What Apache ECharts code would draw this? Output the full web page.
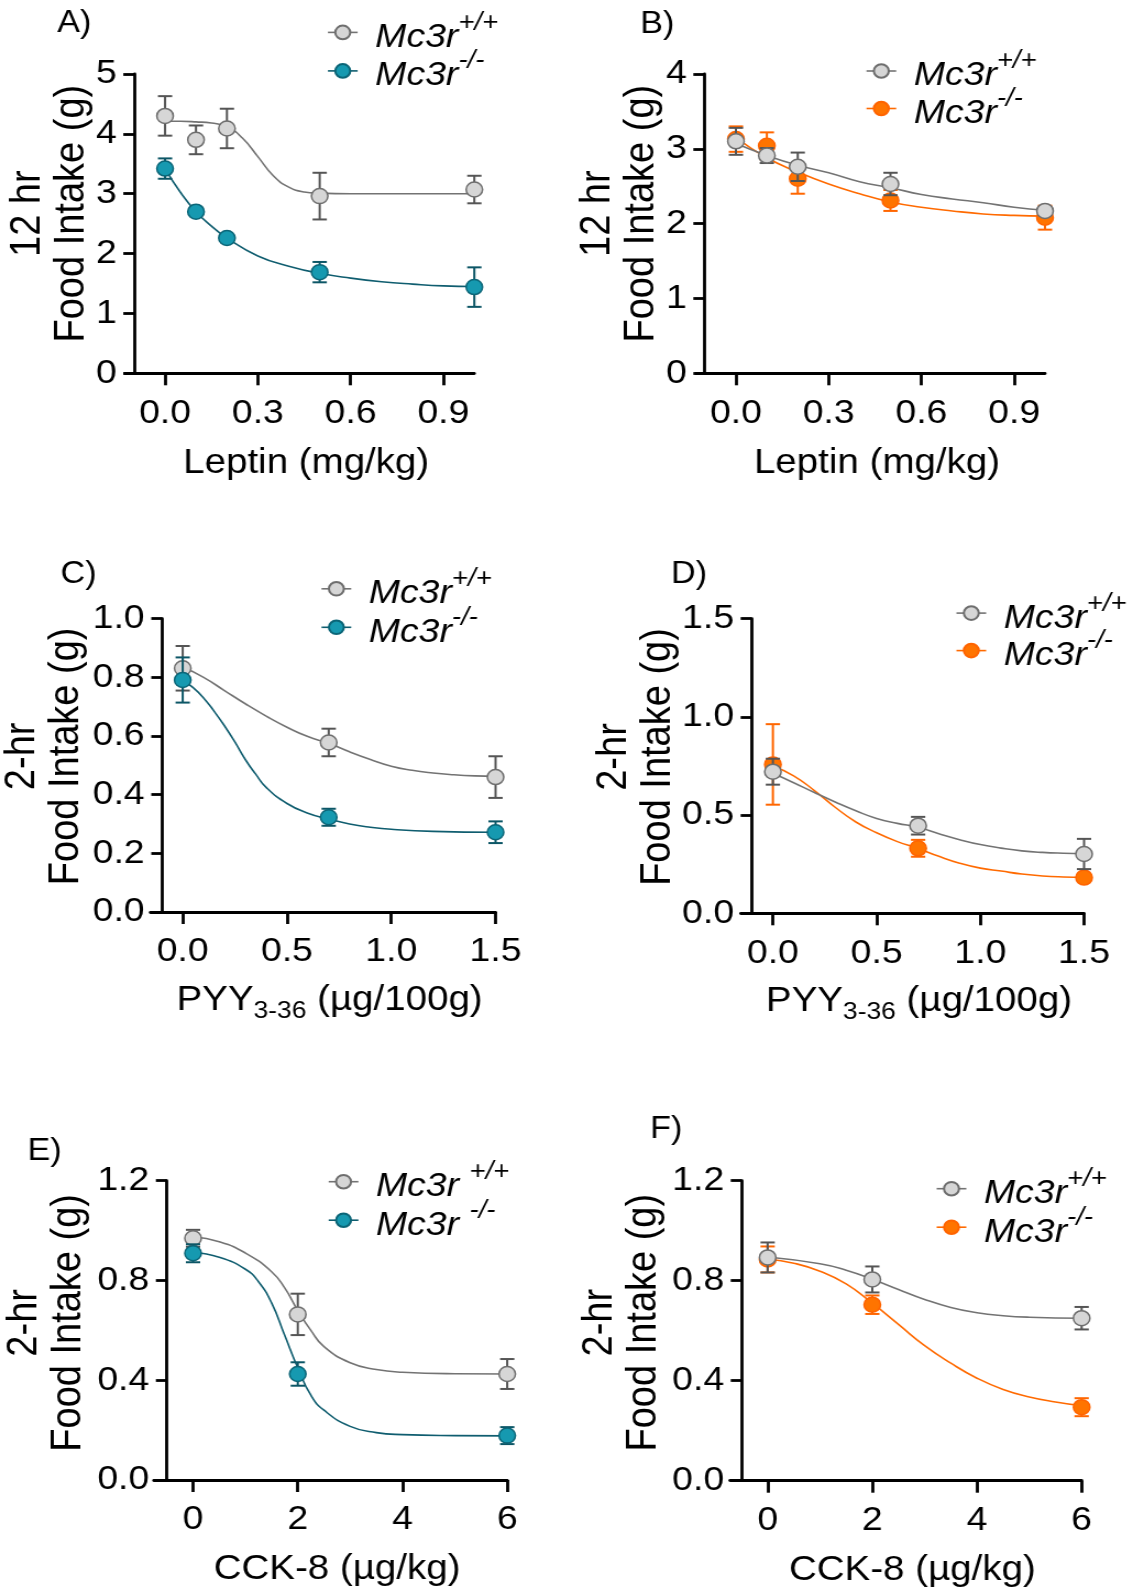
<!DOCTYPE html>
<html><head><meta charset="utf-8">
<script src="https://cdn.jsdelivr.net/npm/echarts@6.0.0/dist/echarts.min.js"></script>
<style>
html,body{margin:0;padding:0;background:#fff;overflow:hidden;}
#c{position:absolute;left:0;top:0;width:1030px;height:1589px;transform:scaleX(1.1);transform-origin:0 0;}
</style></head><body><div id="c"></div>
<script>
// ---------- data ----------
const leptinDose = [0, 0.1, 0.2, 0.5, 1.0];
const pyyDose = [0, 0.7, 1.5];
const cckDose = [0, 2, 6];

const leptinTicks = [0, 0.3, 0.6, 0.9];
const leptinTickLabels = ['0.0', '0.3', '0.6', '0.9'];
const pyyTicks = [0, 0.5, 1.0, 1.5];
const pyyTickLabels = ['0.0', '0.5', '1.0', '1.5'];
const cckTicks = [0, 2, 4, 6];
const cckTickLabels = ['0', '2', '4', '6'];

const yTicksA = [0, 1, 2, 3, 4, 5];
const yTickLabelsA = ['0', '1', '2', '3', '4', '5'];
const yTicksB = [0, 1, 2, 3, 4];
const yTickLabelsB = ['0', '1', '2', '3', '4'];
const yTicksC = [0, 0.2, 0.4, 0.6, 0.8, 1.0];
const yTickLabelsC = ['0.0', '0.2', '0.4', '0.6', '0.8', '1.0'];
const yTicksD = [0, 0.5, 1.0, 1.5];
const yTickLabelsD = ['0.0', '0.5', '1.0', '1.5'];
const yTicksEF = [0, 0.4, 0.8, 1.2];
const yTickLabelsEF = ['0.0', '0.4', '0.8', '1.2'];

// Panel A: leptin, 12 hr
const aWT = [4.30, 3.90, 4.09, 2.96, 3.07];
const aWTsem = [0.33, 0.24, 0.33, 0.39, 0.23];
const aKO = [3.42, 2.70, 2.26, 1.69, 1.44];
const aKOsem = [0.17, 0.04, 0.04, 0.17, 0.33];
const aWTfit = [[0,4.21],[0.05,4.21],[0.1,4.20],[0.15,4.18],[0.2,4.12],[0.25,3.93],[0.3,3.62],[0.35,3.30],[0.4,3.11],[0.45,3.03],[0.5,3.01],[0.6,3.0],[0.8,3.0],[1.0,3.0]];
const aKOfit = [[0,3.42],[0.05,3.02],[0.1,2.70],[0.15,2.46],[0.2,2.26],[0.3,1.96],[0.4,1.79],[0.5,1.67],[0.6,1.59],[0.7,1.53],[0.8,1.49],[0.9,1.46],[1.0,1.45]];

// Panel B: leptin, 12 hr
const bWT = [3.10, 2.91, 2.76, 2.53, 2.17];
const bWTsem = [0.18, 0.10, 0.19, 0.15, 0.05];
const bKO = [3.13, 3.04, 2.60, 2.31, 2.08];
const bKOsem = [0.17, 0.18, 0.20, 0.14, 0.16];
const bWTfit = [[0,3.07],[0.1,2.91],[0.2,2.78],[0.3,2.68],[0.4,2.56],[0.5,2.48],[0.6,2.39],[0.7,2.33],[0.8,2.28],[0.9,2.22],[1.0,2.18]];
const bKOfit = [[0,3.15],[0.1,2.88],[0.2,2.69],[0.3,2.53],[0.4,2.40],[0.5,2.29],[0.6,2.22],[0.7,2.17],[0.8,2.13],[0.9,2.11],[1.0,2.10]];

// Panel C: PYY, 2-hr
const cWT = [0.831, 0.578, 0.460];
const cWTsem = [0.076, 0.047, 0.071];
const cKO = [0.791, 0.323, 0.272];
const cKOsem = [0.077, 0.029, 0.037];
const cWTfit = [[0,0.835],[0.1,0.80],[0.2,0.755],[0.3,0.71],[0.4,0.668],[0.5,0.63],[0.6,0.598],[0.7,0.575],[0.8,0.546],[0.9,0.52],[1.0,0.497],[1.1,0.483],[1.2,0.474],[1.3,0.468],[1.4,0.464],[1.5,0.462]];
const cKOfit = [[0,0.79],[0.05,0.765],[0.1,0.73],[0.15,0.685],[0.2,0.635],[0.25,0.58],[0.3,0.52],[0.35,0.47],[0.4,0.425],[0.5,0.37],[0.6,0.337],[0.7,0.317],[0.8,0.30],[0.9,0.289],[1.0,0.282],[1.2,0.275],[1.5,0.272]];

// Panel D: PYY, 2-hr
const dWT = [0.721, 0.446, 0.302];
const dWTsem = [0.066, 0.045, 0.077];
const dKO = [0.758, 0.331, 0.182];
const dKOsem = [0.205, 0.043, 0.015];
const dWTfit = [[0,0.713],[0.1,0.665],[0.2,0.615],[0.3,0.567],[0.4,0.522],[0.5,0.483],[0.6,0.458],[0.7,0.438],[0.8,0.405],[0.9,0.375],[1.0,0.35],[1.1,0.332],[1.2,0.318],[1.3,0.31],[1.4,0.306],[1.5,0.304]];
const dKOfit = [[0,0.75],[0.1,0.70],[0.2,0.625],[0.3,0.54],[0.4,0.465],[0.5,0.41],[0.6,0.365],[0.7,0.33],[0.8,0.29],[0.9,0.255],[1.0,0.23],[1.1,0.215],[1.2,0.20],[1.3,0.19],[1.4,0.185],[1.5,0.183]];

// Panel E: CCK-8, 2-hr
const eWT = [0.969, 0.664, 0.425];
const eWTsem = [0.034, 0.083, 0.060];
const eKO = [0.909, 0.425, 0.178];
const eKOsem = [0.036, 0.047, 0.034];
const eWTfit = [[0,0.975],[0.5,0.955],[1,0.91],[1.5,0.835],[1.75,0.77],[2,0.68],[2.25,0.60],[2.5,0.535],[3,0.47],[3.5,0.443],[4,0.432],[5,0.426],[6,0.425]];
const eKOfit = [[0,0.912],[0.5,0.893],[1,0.845],[1.25,0.795],[1.5,0.71],[1.75,0.58],[2,0.45],[2.25,0.34],[2.5,0.28],[3,0.215],[3.5,0.19],[4,0.182],[5,0.178],[6,0.177]];

// Panel F: CCK-8, 2-hr
const fWT = [0.893, 0.805, 0.650];
const fWTsem = [0.060, 0.052, 0.045];
const fKO = [0.885, 0.704, 0.294];
const fKOsem = [0.052, 0.037, 0.036];
const fWTfit = [[0,0.895],[1,0.868],[1.5,0.842],[2,0.806],[2.5,0.765],[3,0.725],[3.5,0.693],[4,0.672],[4.5,0.66],[5,0.654],[6,0.65]];
const fKOfit = [[0,0.887],[0.5,0.87],[1,0.838],[1.5,0.787],[2,0.71],[2.5,0.625],[3,0.54],[3.5,0.47],[4,0.41],[4.5,0.365],[5,0.335],[5.5,0.315],[6,0.30]];

// ---------- styling ----------
const FONT = '"Liberation Sans", Arial, Helvetica, sans-serif';
const GRAY = {fill:'#d6d6d6', border:'#6e6e6e', line:'#737373', err:'#555555'};
const TEAL = {fill:'#1699b0', border:'#0b6577', line:'#0f5d6f', err:'#0c5666'};
const ORANGE = {fill:'#ff7400', border:'#ff6400', line:'#ff6a00', err:'#ff6600'};

function lookup(ticks, labels) {
  return function (v) {
    const i = ticks.findIndex(t => Math.abs(t - v) < 1e-6);
    return i >= 0 ? labels[i] : '';
  };
}

function errRender(color) {
  return function (params, api) {
    const x = api.value(0), y = api.value(1), e = api.value(2);
    const p1 = api.coord([x, y + e]), p2 = api.coord([x, y - e]);
    const w = 6.5;
    const st = {stroke: color, lineWidth: 2, fill: null};
    return {type: 'group', children: [
      {type: 'line', shape: {x1: p1[0], y1: p1[1], x2: p2[0], y2: p2[1]}, style: st},
      {type: 'line', shape: {x1: p1[0] - w, y1: p1[1], x2: p1[0] + w, y2: p1[1]}, style: st},
      {type: 'line', shape: {x1: p2[0] - w, y1: p2[1], x2: p2[0] + w, y2: p2[1]}, style: st}
    ]};
  };
}

function groupSeries(idx, name, xs, ys, sem, fit, col, z) {
  return [
    {type: 'line', name: name + '_fit', xAxisIndex: idx, yAxisIndex: idx, data: fit,
     smooth: 0.5, symbol: 'none', showSymbol: false,
     lineStyle: {color: col.line, width: 1.6}, z: 2, silent: true},
    {type: 'custom', name: name + '_err', xAxisIndex: idx, yAxisIndex: idx,
     data: xs.map((x, i) => [x, ys[i], sem[i]]), renderItem: errRender(col.err),
     z: z, silent: true, clip: false},
    {type: 'line', name: name, xAxisIndex: idx, yAxisIndex: idx,
     data: xs.map((x, i) => [x, ys[i]]), symbol: 'circle', symbolSize: 15, showSymbol: true,
     lineStyle: {opacity: 0, color: col.line, width: 1.6},
     itemStyle: {color: col.fill, borderColor: col.border, borderWidth: 1.5},
     z: z + 1, silent: true}
  ];
}

const axisLineStyle = {color: '#000', width: 2.8};

function xAxisCfg(idx, min, max, ticks, labels, name, nameGap, nameStyle) {
  return {type: 'value', gridIndex: idx, min: min, max: max,
    axisLine: {show: true, onZero: false, lineStyle: axisLineStyle},
    axisTick: {show: true, length: 12, customValues: ticks, lineStyle: axisLineStyle},
    axisLabel: {show: true, customValues: ticks, formatter: lookup(ticks, labels),
      fontSize: 34, fontFamily: FONT, color: '#000', margin: 23},
    splitLine: {show: false},
    name: name, nameLocation: 'middle', nameGap: nameGap, nameMoveOverlap: false,
    nameTextStyle: nameStyle};
}

function yAxisCfg(idx, max, ticks, labels, offset, name, nameGap, shiftPad) {
  return {type: 'value', gridIndex: idx, min: 0, max: max, position: 'left', offset: offset,
    axisLine: {show: true, onZero: false, lineStyle: axisLineStyle},
    axisTick: {show: true, length: 10, customValues: ticks, lineStyle: axisLineStyle},
    axisLabel: {show: true, customValues: ticks, formatter: lookup(ticks, labels),
      fontSize: 34, fontFamily: FONT, color: '#000', margin: 16},
    splitLine: {show: false},
    name: name, nameLocation: 'middle', nameRotate: 90, nameGap: nameGap, nameMoveOverlap: false,
    nameTextStyle: {fontSize: 38, lineHeight: 40, fontFamily: FONT, color: '#000', padding: [0, 0, 0, shiftPad]}};
}

const plainName = {fontSize: 35, fontFamily: FONT, color: '#000', padding: [0, 0, 0, 12]};
const pyyName = {padding: [0, 0, 0, 12], rich: {
  a: {fontSize: 35, lineHeight: 40, verticalAlign: 'top', fontFamily: FONT, color: '#000'},
  b: {fontSize: 24, lineHeight: 24, padding: [22, 0, 0, 0], verticalAlign: 'bottom', fontFamily: FONT, color: '#000'}
}};
const pyyLabel = '{a|PYY}{b|3-36}{a| (µg/100g)}';

function legendCfg(names, left, top, gap, spaced) {
  return {show: true, orient: 'vertical', left: left, top: top, itemGap: gap, padding: 0,
    itemWidth: 27, itemHeight: 17, selectedMode: false, data: names,
    lineStyle: {opacity: 1, width: 1.6},
    formatter: function (n) {
      const sup = n.slice(-2) === 'WT' ? '+/+' : '-/-';
      return '{p|}{m|Mc3r' + (spaced ? ' ' : '') + '}{s|' + sup + '}';
    },
    textStyle: {rich: {
      p: {width: 11, lineHeight: 44},
      m: {fontFamily: FONT, fontStyle: 'italic', fontSize: 34, lineHeight: 44, color: '#000', verticalAlign: 'bottom'},
      s: {fontFamily: FONT, fontStyle: 'italic', fontSize: 25, lineHeight: 24, color: '#000', verticalAlign: 'top'}
    }}
  };
}

function letter(t, left, top) {
  return {text: t, left: left, top: top, padding: 0,
    textStyle: {fontFamily: FONT, fontSize: 31, fontWeight: 'normal', color: '#000'}};
}

const option = {
  animation: false,
  backgroundColor: '#fff',
  title: [
    letter('A)', 52, 8), letter('B)', 582, 9), letter('C)', 55, 559),
    letter('D)', 610, 559), letter('E)', 25, 1136), letter('F)', 591, 1114)
  ],
  grid: [
    {left: 113.5, top: 74, width: 317.7, height: 299.3, outerBoundsMode: 'none'},
    {left: 632.5, top: 74, width: 317.5, height: 299.3, outerBoundsMode: 'none'},
    {left: 136.7, top: 618.7, width: 313.8, height: 293.3, outerBoundsMode: 'none'},
    {left: 673.4, top: 618.7, width: 312.1, height: 294.6, outerBoundsMode: 'none'},
    {left: 139.8, top: 1180.7, width: 321.3, height: 299.3, outerBoundsMode: 'none'},
    {left: 663.6, top: 1180.7, width: 319.7, height: 300, outerBoundsMode: 'none'}
  ],
  xAxis: [
    xAxisCfg(0, -0.13, 1.0, leptinTicks, leptinTickLabels, 'Leptin (mg/kg)', 73, plainName),
    xAxisCfg(1, -0.13, 1.0, leptinTicks, leptinTickLabels, 'Leptin (mg/kg)', 73, plainName),
    xAxisCfg(2, -0.155, 1.5, pyyTicks, pyyTickLabels, pyyLabel, 71, pyyName),
    xAxisCfg(3, -0.155, 1.5, pyyTicks, pyyTickLabels, pyyLabel, 71, pyyName),
    xAxisCfg(4, -0.75, 6, cckTicks, cckTickLabels, 'CCK-8 (µg/kg)', 72, plainName),
    xAxisCfg(5, -0.72, 6, cckTicks, cckTickLabels, 'CCK-8 (µg/kg)', 72, plainName)
  ],
  yAxis: [
    yAxisCfg(0, 5, yTicksA, yTickLabelsA, -8.6, '12 hr\nFood Intake (g)', 36.5, 20),
    yAxisCfg(1, 4, yTicksB, yTickLabelsB, -7.8, '12 hr\nFood Intake (g)', 36.5, 20),
    yAxisCfg(2, 1.0, yTicksC, yTickLabelsC, -10.8, '2-hr\nFood Intake (g)', 66.5, 18),
    yAxisCfg(3, 1.5, yTicksD, yTickLabelsD, -9.9, '2-hr\nFood Intake (g)', 64.5, 18),
    yAxisCfg(4, 1.2, yTicksEF, yTickLabelsEF, -11.9, '2-hr\nFood Intake (g)', 69.5, 15),
    yAxisCfg(5, 1.2, yTicksEF, yTickLabelsEF, -10.7, '2-hr\nFood Intake (g)', 68.5, 16)
  ],
  legend: [
    legendCfg(['aWT', 'aKO'], 297.3, 10.4, -5.5, false),
    legendCfg(['bWT', 'bKO'], 786.9, 49, -6.5, false),
    legendCfg(['cWT', 'cKO'], 291.5, 566.8, -5.5, false),
    legendCfg(['dWT', 'dKO'], 868.7, 591.1, -6.5, false),
    legendCfg(['eWT', 'eKO'], 298, 1159.7, -5.5, true),
    legendCfg(['fWT', 'fKO'], 850.7, 1166.7, -5.5, false)
  ],
  series: [].concat(
    groupSeries(0, 'aWT', leptinDose, aWT, aWTsem, aWTfit, GRAY, 3),
    groupSeries(0, 'aKO', leptinDose, aKO, aKOsem, aKOfit, TEAL, 5),
    groupSeries(1, 'bKO', leptinDose, bKO, bKOsem, bKOfit, ORANGE, 3),
    groupSeries(1, 'bWT', leptinDose, bWT, bWTsem, bWTfit, GRAY, 5),
    groupSeries(2, 'cWT', pyyDose, cWT, cWTsem, cWTfit, GRAY, 3),
    groupSeries(2, 'cKO', pyyDose, cKO, cKOsem, cKOfit, TEAL, 5),
    groupSeries(3, 'dKO', pyyDose, dKO, dKOsem, dKOfit, ORANGE, 3),
    groupSeries(3, 'dWT', pyyDose, dWT, dWTsem, dWTfit, GRAY, 5),
    groupSeries(4, 'eWT', cckDose, eWT, eWTsem, eWTfit, GRAY, 3),
    groupSeries(4, 'eKO', cckDose, eKO, eKOsem, eKOfit, TEAL, 5),
    groupSeries(5, 'fKO', cckDose, fKO, fKOsem, fKOfit, ORANGE, 3),
    groupSeries(5, 'fWT', cckDose, fWT, fWTsem, fWTfit, GRAY, 5)
  )
};

const chart = echarts.init(document.getElementById('c'), null, {renderer: 'canvas', width: 1030, height: 1589});
chart.setOption(option);
</script>
</body></html>
